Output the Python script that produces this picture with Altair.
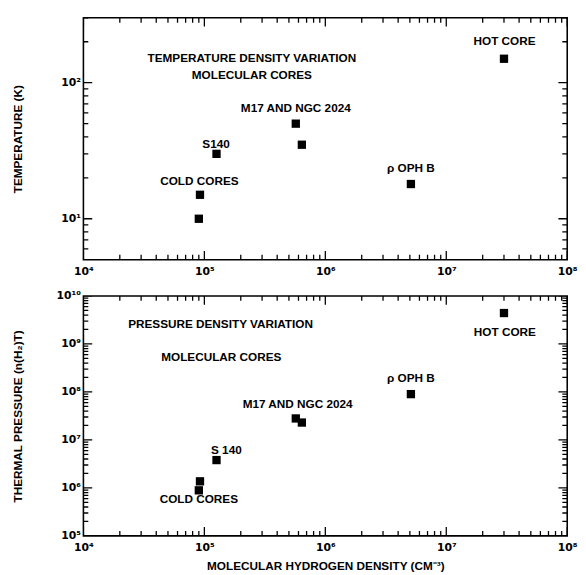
import altair as alt
import pandas as pd

# ---- data ----
names = ["COLD CORE 1", "COLD CORE 2", "S140", "M17", "NGC 2024", "RHO OPH B", "HOT CORE"]
density = [9.0e4, 9.2e4, 1.26e5, 5.7e5, 6.4e5, 5.1e6, 3.0e7]
temperature = [10, 15, 30, 50, 35, 18, 150]
pressure = [8.9e5, 1.37e6, 3.8e6, 2.8e7, 2.3e7, 9.0e7, 4.4e9]

# annotations (text, anchor in data units)
top_text = ["TEMPERATURE DENSITY VARIATION", "MOLECULAR CORES", "M17 AND NGC 2024",
            "S140", "COLD CORES", "ρ OPH B", "HOT CORE"]
top_tx = [2.47e5, 2.47e5, 5.7e5, 1.25e5, 9.1e4, 5.1e6, 3.03e7]
top_ty = [152, 114, 65, 35.2, 18.9, 23.5, 203]

bot_text = ["PRESSURE DENSITY VARIATION", "MOLECULAR CORES", "M17 AND NGC 2024",
            "S 140", "COLD CORES", "ρ OPH B", "HOT CORE"]
bot_tx = [1.36e5, 1.38e5, 5.9e5, 1.52e5, 9.0e4, 5.1e6, 3.05e7]
bot_ty = [2.56e9, 5.25e8, 5.5e7, 6.05e6, 5.9e5, 1.93e8, 1.78e9]

x_major = [1e4, 1e5, 1e6, 1e7, 1e8]
x_minor = [float(m * 10 ** k) for k in range(4, 8) for m in range(2, 10)]
t_major = [10.0, 100.0]
t_minor = [5.0, 6.0, 7.0, 8.0, 9.0] + [float(m * 10) for m in range(2, 10)] + [200.0, 300.0]
p_major = [float(10 ** k) for k in range(5, 11)]
p_minor = [float(m * 10 ** k) for k in range(5, 10) for m in range(2, 10)]

sup = ["10⁰", "10¹", "10²", "10³", "10⁴", "10⁵", "10⁶", "10⁷", "10⁸", "10⁹", "10¹⁰"]
sup_js = "[" + ",".join("'" + s + "'" for s in sup) + "]"
label_expr = sup_js + "[round(log(datum.value)/LN10)]"

FONT = "Liberation Sans"
W = 494
H1 = 247
H2 = 245
MAJ = 9
MIN = 5


def panel(yvals, ydomain, ymaj, ymin, ytitle, H, texts, tx, ty, xtitle):
    xs = alt.Scale(type="log", domain=[1e4, 1e8], nice=False)
    ys = alt.Scale(type="log", domain=ydomain, nice=False)
    xaxis = alt.Axis(values=x_major, labelExpr=label_expr, title=xtitle,
                     ticks=False, domain=False, grid=False, labelPadding=6,
                     labelFont="DejaVu Sans", labelFontSize=11, labelFontWeight="bold",
                     titleFont=FONT, titleFontSize=12, titleFontWeight="bold",
                     titleY=34, titleBaseline="alphabetic", labelFlush=False)
    yaxis = alt.Axis(values=ymaj, labelExpr=label_expr, title=ytitle,
                     ticks=False, domain=False, grid=False, labelPadding=3,
                     labelFont="DejaVu Sans", labelFontSize=11, labelFontWeight="bold",
                     titleFont=FONT, titleFontSize=12, titleFontWeight="bold",
                     titleX=-60, titleBaseline="bottom", labelFlush=False)
    X = alt.X("x:Q", scale=xs, axis=xaxis)
    Y = alt.Y("y:Q", scale=ys, axis=yaxis)

    pts = pd.DataFrame({"x": density, "y": yvals})
    points = alt.Chart(pts).mark_square(size=72, color="black", opacity=1).encode(x=X, y=Y)

    ann = pd.DataFrame({"x": tx, "y": ty, "t": texts})
    labels = alt.Chart(ann).mark_text(font=FONT, fontSize=12, fontWeight="bold",
                                      align="center", baseline="middle",
                                      color="black").encode(x=X, y=Y, text="t:N")

    layers = [points, labels]
    # inward ticks: ticks centred on the frame, clipped to the plot area
    for vals, ln in [(x_major, MAJ), (x_minor, MIN)]:
        d = pd.DataFrame({"x": vals})
        b = alt.Chart(d).mark_tick(color="black", thickness=1.3, size=2 * ln,
                                   clip=True, opacity=1, orient="vertical")
        layers.append(b.encode(x=X, y=alt.value(H)))
        layers.append(b.encode(x=X, y=alt.value(0)))
    for vals, ln in [(ymaj, MAJ), (ymin, MIN)]:
        d = pd.DataFrame({"y": vals})
        b = alt.Chart(d).mark_tick(color="black", thickness=1.3, size=2 * ln,
                                   clip=True, opacity=1, orient="horizontal")
        layers.append(b.encode(y=Y, x=alt.value(0)))
        layers.append(b.encode(y=Y, x=alt.value(W)))

    return alt.layer(*layers).properties(width=W, height=H)


top = panel(temperature, [5, 300], t_major, t_minor, "TEMPERATURE (K)", H1,
            top_text, top_tx, top_ty, None)
bottom = panel(pressure, [1e5, 1e10], p_major, p_minor, "THERMAL PRESSURE (n(H₂)T)", H2,
               bot_text, bot_tx, bot_ty, "MOLECULAR HYDROGEN DENSITY (CM⁻³)")

chart = alt.vconcat(top, bottom, spacing=37, bounds="flush").properties(
    padding={"left": 3, "top": 3, "right": 0, "bottom": 0}, background="white"
).configure_view(stroke="black", strokeWidth=1.6)

chart.save("out.html", embed_options={"renderer": "svg", "actions": False})
